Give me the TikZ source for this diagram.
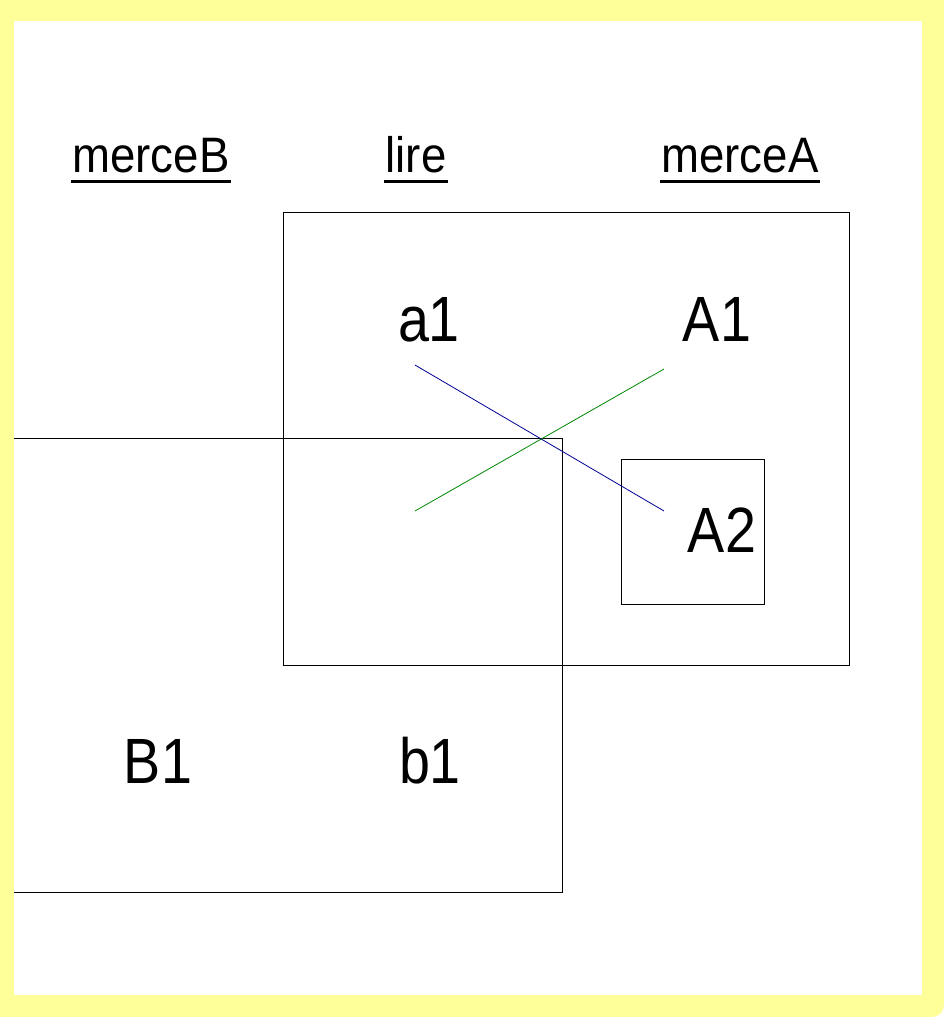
\documentclass[tikz,border=0pt]{standalone}
\usepackage{fontspec}
\setmainfont{Liberation Sans}
\definecolor{bgyellow}{RGB}{255,255,153}
\definecolor{lineblue}{RGB}{0,0,150}
\definecolor{linegreen}{RGB}{0,135,0}
\newcommand{\bigtxt}[1]{\scalebox{0.87}[1.0]{#1}}
\newcommand{\smalltxt}[1]{\scalebox{0.97}[1.06]{#1}}
\begin{document}
\begin{tikzpicture}[x=1pt,y=-1pt,
  box/.style={draw=black,line width=0.8pt},
  big/.style={inner sep=0pt,anchor=base,font=\fontsize{64}{70}\selectfont},
  small/.style={inner sep=0pt,anchor=base,font=\fontsize{47}{52}\selectfont},
  ul/.style={line width=3pt},
  link/.style={line width=0.8pt},
]
\useasboundingbox (0,0) rectangle (944,1017);
% background frame
\fill[bgyellow,rounded corners=12pt] (0,0) rectangle (944,1017);
\fill[bgyellow] (0,0) rectangle (900,1017);
\fill[bgyellow] (0,0) rectangle (944,980);
\fill[white] (14,21) rectangle (922,995);

% boxes
\draw[box] (283,212) rectangle (849,665);
\draw[box] (14,438) -- (562,438) -- (562,892) -- (14,892);
\draw[box] (621,459) rectangle (764,604);

% headings
\node[small] (mB) at (151,172) {\smalltxt{merceB}};
\node[small] (lire) at (416,172) {\smalltxt{lire}};
\node[small] (mA) at (740,172) {\smalltxt{merceA}};
\foreach \n in {mB,lire,mA}
  \draw[ul] ([yshift=-9pt,xshift=-1pt]\n.base west) -- ([yshift=-9pt,xshift=1pt]\n.base east);

% labels
\node[big] (a1) at (429,341) {\bigtxt{a1}};
\node[big] (A1) at (717,341) {\bigtxt{A1}};
\node[big] (A2) at (722,552) {\bigtxt{A2}};
\node[big] (B1) at (158,783) {\bigtxt{B1}};
\node[big] (b1) at (430,783) {\bigtxt{b1}};

% connectors
\coordinate (p1) at (415,365);
\coordinate (p2) at (664,511);
\coordinate (p3) at (415,511);
\coordinate (p4) at (664,369);
\draw[link,lineblue] (p1) -- (p2);
\draw[link,linegreen] (p3) -- (p4);
\end{tikzpicture}
\end{document}
